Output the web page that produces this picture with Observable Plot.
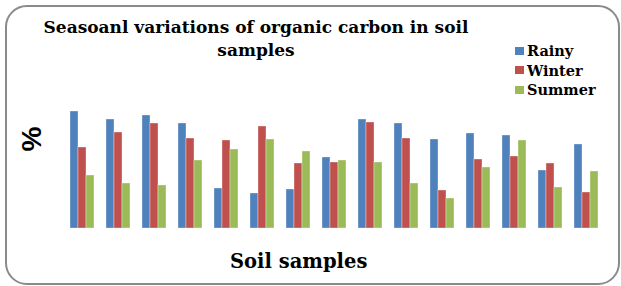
<!DOCTYPE html>
<html>
<head>
<meta charset="utf-8">
<script src="https://cdn.jsdelivr.net/npm/d3@7"></script>
<script src="https://cdn.jsdelivr.net/npm/@observablehq/plot@0.6"></script>
<style>
  html, body { margin: 0; padding: 0; background: #fff; }
  #wrap { position: relative; width: 621px; height: 286px; overflow: hidden; background: #fff; }
  #frame { position: absolute; left: 5px; top: 5px; width: 615px; height: 280px; box-sizing: border-box;
           border: 2px solid #8a8a8a; border-radius: 22px; }
  #chart { position: absolute; left: 0; top: 0; }
  .serif { font-family: "DejaVu Serif", serif; font-weight: bold; color: #000; }
  #title { position: absolute; left: 0; width: 512px; top: 16px; text-align: center; font-size: 17px; line-height: 23px; }
  #legend { position: absolute; left: 515px; top: 41px; font-size: 14.5px; line-height: 19.5px; }
  #legend .row { display: flex; align-items: center; height: 19.5px; }
  #legend .sw { width: 9px; height: 8px; margin-right: 3px; }
  #ylab { position: absolute; left: 32px; top: 139px; transform: translate(-50%, -50%) rotate(-90deg);
          font-family: "Liberation Sans", Arial, sans-serif; font-weight: bold; font-size: 28px; line-height: 1; }
  #xlab { position: absolute; left: 230px; top: 250px; font-size: 19.5px; line-height: 24px; white-space: nowrap; }
</style>
</head>
<body>
<div id="wrap">
  <div id="chart"></div>
  <div id="frame"></div>
  <div id="title" class="serif"></div>
  <div id="legend" class="serif"></div>
  <div id="ylab"></div>
  <div id="xlab" class="serif"></div>
</div>
<script>
const titleLines = ["Seasoanl variations of organic carbon in soil", "samples"];
const yLabel = "%";
const xLabel = "Soil samples";
const seasons = ["Rainy", "Winter", "Summer"];
const seasonColors = ["#4F81BD", "#C0504D", "#9BBB59"];
const samples = ["1","2","3","4","5","6","7","8","9","10","11","12","13","14","15"];
const rainy  = [1.17, 1.09, 1.13, 1.05, 0.40, 0.35, 0.39, 0.71, 1.09, 1.05, 0.89, 0.95, 0.93, 0.58, 0.84];
const winter = [0.81, 0.96, 1.05, 0.90, 0.88, 1.02, 0.65, 0.66, 1.06, 0.90, 0.38, 0.69, 0.72, 0.65, 0.36];
const summer = [0.53, 0.45, 0.43, 0.68, 0.79, 0.89, 0.77, 0.68, 0.66, 0.45, 0.30, 0.61, 0.88, 0.41, 0.57];

const series = {Rainy: rainy, Winter: winter, Summer: summer};
const data = [];
samples.forEach((s, i) => seasons.forEach(k => data.push({sample: s, season: k, value: series[k][i]})));

const chart = Plot.plot({
  width: 621,
  height: 286,
  marginLeft: 59,
  marginRight: 13,
  marginTop: 108,
  marginBottom: 58,
  style: {background: "transparent"},
  fx: {domain: samples, paddingInner: 0.346, paddingOuter: 0.173, axis: null, label: null},
  x: {domain: seasons, padding: 0, axis: null},
  y: {domain: [0, 1.2], axis: null},
  color: {domain: seasons, range: seasonColors},
  marks: [
    Plot.barY(data, {fx: "sample", x: "season", y: "value", fill: "season", inset: 0,
                     stroke: "#ffffff", strokeOpacity: 0.35, strokeWidth: 1})
  ]
});
document.getElementById("chart").appendChild(chart);

document.getElementById("title").innerHTML = titleLines.map(t => `<div>${t}</div>`).join("");
document.getElementById("legend").innerHTML = seasons.map((s, i) =>
  `<div class="row"><span class="sw" style="background:${seasonColors[i]}"></span><span>${s}</span></div>`).join("");
document.getElementById("ylab").textContent = yLabel;
document.getElementById("xlab").textContent = xLabel;
</script>
</body>
</html>
